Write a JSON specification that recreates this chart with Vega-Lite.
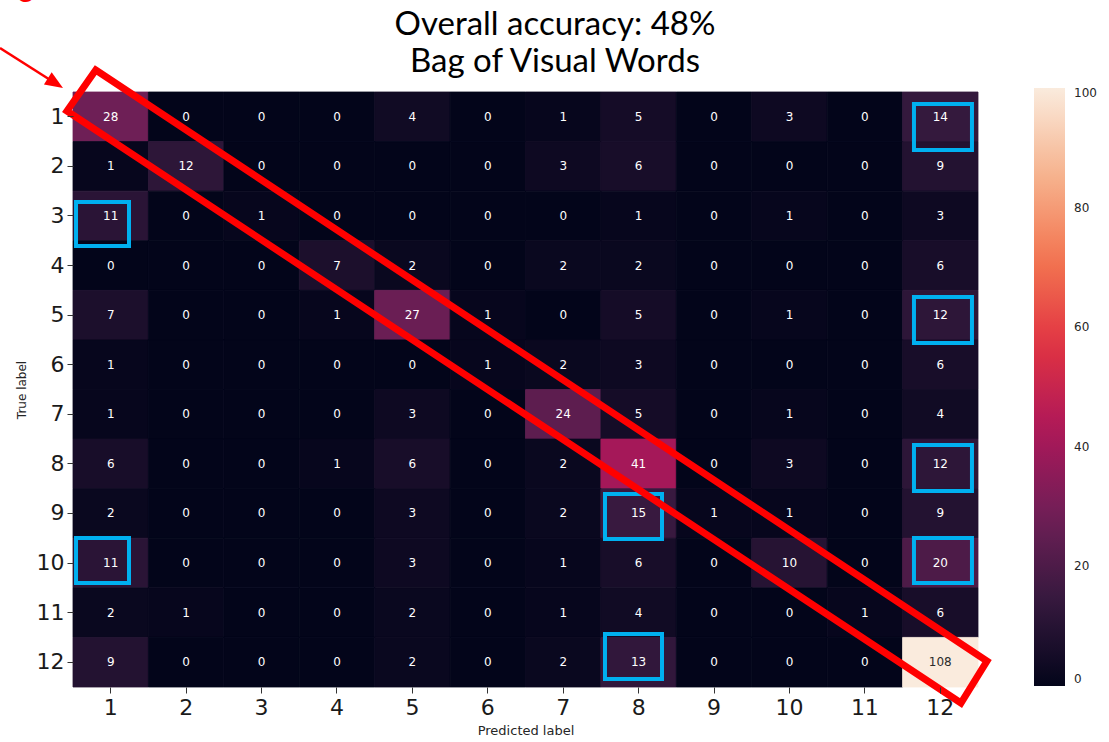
{
  "$schema": "https://vega.github.io/schema/vega-lite/v6.json",
  "width": 905,
  "height": 595,
  "autosize": {"type": "none"},
  "padding": {"left": 73, "top": 92, "right": 131, "bottom": 55},
  "background": "white",
  "config": {
    "view": {"stroke": null},
    "axis": {
      "labelFont": "DejaVu Sans",
      "titleFont": "DejaVu Sans",
      "labelColor": "#1a1a1a",
      "titleColor": "#262626",
      "tickColor": "#333333",
      "titleFontWeight": "normal",
      "domain": false,
      "grid": false
    }
  },
  "layer": [
    {
      "data": {
        "values": [
          {"t": 1, "p": 1, "v": 28}, {"t": 1, "p": 2, "v": 0}, {"t": 1, "p": 3, "v": 0}, {"t": 1, "p": 4, "v": 0}, {"t": 1, "p": 5, "v": 4}, {"t": 1, "p": 6, "v": 0}, {"t": 1, "p": 7, "v": 1}, {"t": 1, "p": 8, "v": 5}, {"t": 1, "p": 9, "v": 0}, {"t": 1, "p": 10, "v": 3}, {"t": 1, "p": 11, "v": 0}, {"t": 1, "p": 12, "v": 14},
          {"t": 2, "p": 1, "v": 1}, {"t": 2, "p": 2, "v": 12}, {"t": 2, "p": 3, "v": 0}, {"t": 2, "p": 4, "v": 0}, {"t": 2, "p": 5, "v": 0}, {"t": 2, "p": 6, "v": 0}, {"t": 2, "p": 7, "v": 3}, {"t": 2, "p": 8, "v": 6}, {"t": 2, "p": 9, "v": 0}, {"t": 2, "p": 10, "v": 0}, {"t": 2, "p": 11, "v": 0}, {"t": 2, "p": 12, "v": 9},
          {"t": 3, "p": 1, "v": 11}, {"t": 3, "p": 2, "v": 0}, {"t": 3, "p": 3, "v": 1}, {"t": 3, "p": 4, "v": 0}, {"t": 3, "p": 5, "v": 0}, {"t": 3, "p": 6, "v": 0}, {"t": 3, "p": 7, "v": 0}, {"t": 3, "p": 8, "v": 1}, {"t": 3, "p": 9, "v": 0}, {"t": 3, "p": 10, "v": 1}, {"t": 3, "p": 11, "v": 0}, {"t": 3, "p": 12, "v": 3},
          {"t": 4, "p": 1, "v": 0}, {"t": 4, "p": 2, "v": 0}, {"t": 4, "p": 3, "v": 0}, {"t": 4, "p": 4, "v": 7}, {"t": 4, "p": 5, "v": 2}, {"t": 4, "p": 6, "v": 0}, {"t": 4, "p": 7, "v": 2}, {"t": 4, "p": 8, "v": 2}, {"t": 4, "p": 9, "v": 0}, {"t": 4, "p": 10, "v": 0}, {"t": 4, "p": 11, "v": 0}, {"t": 4, "p": 12, "v": 6},
          {"t": 5, "p": 1, "v": 7}, {"t": 5, "p": 2, "v": 0}, {"t": 5, "p": 3, "v": 0}, {"t": 5, "p": 4, "v": 1}, {"t": 5, "p": 5, "v": 27}, {"t": 5, "p": 6, "v": 1}, {"t": 5, "p": 7, "v": 0}, {"t": 5, "p": 8, "v": 5}, {"t": 5, "p": 9, "v": 0}, {"t": 5, "p": 10, "v": 1}, {"t": 5, "p": 11, "v": 0}, {"t": 5, "p": 12, "v": 12},
          {"t": 6, "p": 1, "v": 1}, {"t": 6, "p": 2, "v": 0}, {"t": 6, "p": 3, "v": 0}, {"t": 6, "p": 4, "v": 0}, {"t": 6, "p": 5, "v": 0}, {"t": 6, "p": 6, "v": 1}, {"t": 6, "p": 7, "v": 2}, {"t": 6, "p": 8, "v": 3}, {"t": 6, "p": 9, "v": 0}, {"t": 6, "p": 10, "v": 0}, {"t": 6, "p": 11, "v": 0}, {"t": 6, "p": 12, "v": 6},
          {"t": 7, "p": 1, "v": 1}, {"t": 7, "p": 2, "v": 0}, {"t": 7, "p": 3, "v": 0}, {"t": 7, "p": 4, "v": 0}, {"t": 7, "p": 5, "v": 3}, {"t": 7, "p": 6, "v": 0}, {"t": 7, "p": 7, "v": 24}, {"t": 7, "p": 8, "v": 5}, {"t": 7, "p": 9, "v": 0}, {"t": 7, "p": 10, "v": 1}, {"t": 7, "p": 11, "v": 0}, {"t": 7, "p": 12, "v": 4},
          {"t": 8, "p": 1, "v": 6}, {"t": 8, "p": 2, "v": 0}, {"t": 8, "p": 3, "v": 0}, {"t": 8, "p": 4, "v": 1}, {"t": 8, "p": 5, "v": 6}, {"t": 8, "p": 6, "v": 0}, {"t": 8, "p": 7, "v": 2}, {"t": 8, "p": 8, "v": 41}, {"t": 8, "p": 9, "v": 0}, {"t": 8, "p": 10, "v": 3}, {"t": 8, "p": 11, "v": 0}, {"t": 8, "p": 12, "v": 12},
          {"t": 9, "p": 1, "v": 2}, {"t": 9, "p": 2, "v": 0}, {"t": 9, "p": 3, "v": 0}, {"t": 9, "p": 4, "v": 0}, {"t": 9, "p": 5, "v": 3}, {"t": 9, "p": 6, "v": 0}, {"t": 9, "p": 7, "v": 2}, {"t": 9, "p": 8, "v": 15}, {"t": 9, "p": 9, "v": 1}, {"t": 9, "p": 10, "v": 1}, {"t": 9, "p": 11, "v": 0}, {"t": 9, "p": 12, "v": 9},
          {"t": 10, "p": 1, "v": 11}, {"t": 10, "p": 2, "v": 0}, {"t": 10, "p": 3, "v": 0}, {"t": 10, "p": 4, "v": 0}, {"t": 10, "p": 5, "v": 3}, {"t": 10, "p": 6, "v": 0}, {"t": 10, "p": 7, "v": 1}, {"t": 10, "p": 8, "v": 6}, {"t": 10, "p": 9, "v": 0}, {"t": 10, "p": 10, "v": 10}, {"t": 10, "p": 11, "v": 0}, {"t": 10, "p": 12, "v": 20},
          {"t": 11, "p": 1, "v": 2}, {"t": 11, "p": 2, "v": 1}, {"t": 11, "p": 3, "v": 0}, {"t": 11, "p": 4, "v": 0}, {"t": 11, "p": 5, "v": 2}, {"t": 11, "p": 6, "v": 0}, {"t": 11, "p": 7, "v": 1}, {"t": 11, "p": 8, "v": 4}, {"t": 11, "p": 9, "v": 0}, {"t": 11, "p": 10, "v": 0}, {"t": 11, "p": 11, "v": 1}, {"t": 11, "p": 12, "v": 6},
          {"t": 12, "p": 1, "v": 9}, {"t": 12, "p": 2, "v": 0}, {"t": 12, "p": 3, "v": 0}, {"t": 12, "p": 4, "v": 0}, {"t": 12, "p": 5, "v": 2}, {"t": 12, "p": 6, "v": 0}, {"t": 12, "p": 7, "v": 2}, {"t": 12, "p": 8, "v": 13}, {"t": 12, "p": 9, "v": 0}, {"t": 12, "p": 10, "v": 0}, {"t": 12, "p": 11, "v": 0}, {"t": 12, "p": 12, "v": 108}
        ]
      },
      "encoding": {
        "x": {
          "field": "p",
          "type": "ordinal",
          "scale": {"domain": [1, 2, 3, 4, 5, 6, 7, 8, 9, 10, 11, 12], "paddingInner": 0, "paddingOuter": 0},
          "axis": {
            "title": "Predicted label",
            "labelAngle": 0,
            "labelFontSize": 22,
            "labelPadding": 4,
            "tickSize": 6,
            "titleFontSize": 13,
            "titlePadding": 6
          }
        },
        "y": {
          "field": "t",
          "type": "ordinal",
          "scale": {"domain": [1, 2, 3, 4, 5, 6, 7, 8, 9, 10, 11, 12], "paddingInner": 0, "paddingOuter": 0},
          "axis": {
            "title": "True label",
            "labelFontSize": 22,
            "labelPadding": 3,
            "tickSize": 6,
            "titleFontSize": 12,
            "titlePadding": 8
          }
        }
      },
      "layer": [
        {
          "mark": {"type": "rect", "strokeWidth": 0.8, "stroke": {"expr": "scale('fill', datum.v)"}},
          "encoding": {
            "fill": {
              "field": "v",
              "type": "quantitative",
              "scale": {
                "domain": [0, 14.2857, 28.5714, 42.8571, 57.1429, 71.4286, 85.7143, 100],
                "range": ["#03051a", "#35193e", "#701f57", "#ad1759", "#e13342", "#f37651", "#f6b48f", "#faebdd"],
                "interpolate": "rgb",
                "clamp": true
              },
              "legend": {
                "type": "gradient",
                "title": null,
                "orient": "none",
                "legendX": 961,
                "legendY": -4,
                "direction": "vertical",
                "gradientLength": 598,
                "gradientThickness": 31,
                "gradientStrokeWidth": 0,
                "values": [0, 20, 40, 60, 80, 100],
                "labelFont": "DejaVu Sans",
                "labelFontSize": 12,
                "labelColor": "#262626",
                "labelOffset": 9,
                "labelBaseline": "middle"
              }
            }
          }
        },
        {
          "mark": {"type": "text", "font": "DejaVu Sans", "fontSize": 12},
          "encoding": {
            "text": {"field": "v", "type": "quantitative"},
            "color": {"condition": {"test": "datum.v > 60", "value": "#2b2b2b"}, "value": "#ffffff"}
          }
        }
      ]
    },
    {
      "encoding": {
        "x": {"type": "quantitative", "scale": {"domain": [0.5, 12.5], "nice": false, "zero": false}, "axis": null},
        "y": {"type": "quantitative", "scale": {"domain": [0.5, 12.5], "nice": false, "zero": false, "reverse": true}, "axis": null}
      },
      "layer": [
        {
          "data": {
            "values": [
              {"x1": 11.651, "x2": 12.42, "y1": 0.742, "y2": 1.67},
              {"x1": 0.54, "x2": 1.2425, "y1": 2.719, "y2": 3.606},
              {"x1": 11.651, "x2": 12.42, "y1": 4.635, "y2": 5.563},
              {"x1": 11.651, "x2": 12.42, "y1": 7.62, "y2": 8.548},
              {"x1": 7.554, "x2": 8.31, "y1": 8.608, "y2": 9.516},
              {"x1": 0.54, "x2": 1.2425, "y1": 9.496, "y2": 10.403},
              {"x1": 11.651, "x2": 12.42, "y1": 9.496, "y2": 10.403},
              {"x1": 7.554, "x2": 8.31, "y1": 11.432, "y2": 12.339}
            ]
          },
          "mark": {"type": "rect", "fill": null, "fillOpacity": 0, "stroke": "#00b0f0", "strokeWidth": 4},
          "encoding": {
            "x": {"field": "x1", "type": "quantitative", "scale": {"domain": [0.5, 12.5], "nice": false, "zero": false}, "axis": null},
            "x2": {"field": "x2"},
            "y": {"field": "y1", "type": "quantitative", "scale": {"domain": [0.5, 12.5], "nice": false, "zero": false, "reverse": true}, "axis": null},
            "y2": {"field": "y2"}
          }
        },
        {
          "data": {
            "values": [
              {"c": 0.801, "r": 0.056, "k": 0},
              {"c": 12.619, "r": 11.976, "k": 1},
              {"c": 12.274, "r": 12.823, "k": 2},
              {"c": 0.42, "r": 0.883, "k": 3}
            ]
          },
          "mark": {"type": "line", "color": "#ff0000", "strokeWidth": 7, "interpolate": "linear-closed", "strokeJoin": "miter", "clip": false},
          "encoding": {
            "x": {"field": "c", "type": "quantitative", "scale": {"domain": [0.5, 12.5], "nice": false, "zero": false}, "axis": null},
            "y": {"field": "r", "type": "quantitative", "scale": {"domain": [0.5, 12.5], "nice": false, "zero": false, "reverse": true}, "axis": null},
            "order": {"field": "k", "type": "quantitative"}
          }
        },
        {
          "data": {
            "values": [
              {"c": -0.468, "r": -0.387, "k": 0},
              {"c": 0.2666, "r": 0.3225, "k": 1}
            ]
          },
          "mark": {"type": "line", "color": "#ff0000", "strokeWidth": 2.5, "clip": false},
          "encoding": {
            "x": {"field": "c", "type": "quantitative", "scale": {"domain": [0.5, 12.5], "nice": false, "zero": false}, "axis": null},
            "y": {"field": "r", "type": "quantitative", "scale": {"domain": [0.5, 12.5], "nice": false, "zero": false, "reverse": true}, "axis": null},
            "order": {"field": "k", "type": "quantitative"}
          }
        },
        {
          "data": {"values": [{"c": 0.2666, "r": 0.3225}]},
          "mark": {"type": "point", "shape": "M1,0L-1,-0.8L-1,0.8Z", "size": 324, "angle": 32.4, "filled": true, "color": "#ff0000", "opacity": 1, "clip": false},
          "encoding": {
            "x": {"field": "c", "type": "quantitative", "scale": {"domain": [0.5, 12.5], "nice": false, "zero": false}, "axis": null},
            "y": {"field": "r", "type": "quantitative", "scale": {"domain": [0.5, 12.5], "nice": false, "zero": false, "reverse": true}, "axis": null}
          }
        },
        {
          "data": {"values": [{"c": -0.123, "r": -1.416, "s": "g"}]},
          "mark": {"type": "text", "font": "Lato", "fontSize": 30, "color": "#ff0000", "baseline": "alphabetic", "align": "center", "clip": false},
          "encoding": {
            "x": {"field": "c", "type": "quantitative", "scale": {"domain": [0.5, 12.5], "nice": false, "zero": false}, "axis": null},
            "y": {"field": "r", "type": "quantitative", "scale": {"domain": [0.5, 12.5], "nice": false, "zero": false, "reverse": true}, "axis": null},
            "text": {"field": "s"}
          }
        },
        {
          "data": {
            "values": [
              {"c": 6.891, "r": -0.65, "s": "Overall accuracy: 48%"},
              {"c": 6.891, "r": 0.0966, "s": "Bag of Visual Words"}
            ]
          },
          "mark": {"type": "text", "font": "Lato", "fontSize": 33, "color": "#000000", "baseline": "alphabetic", "align": "center", "clip": false},
          "encoding": {
            "x": {"field": "c", "type": "quantitative", "scale": {"domain": [0.5, 12.5], "nice": false, "zero": false}, "axis": null},
            "y": {"field": "r", "type": "quantitative", "scale": {"domain": [0.5, 12.5], "nice": false, "zero": false, "reverse": true}, "axis": null},
            "text": {"field": "s"}
          }
        }
      ]
    }
  ],
  "resolve": {"scale": {"x": "independent", "y": "independent"}}
}
